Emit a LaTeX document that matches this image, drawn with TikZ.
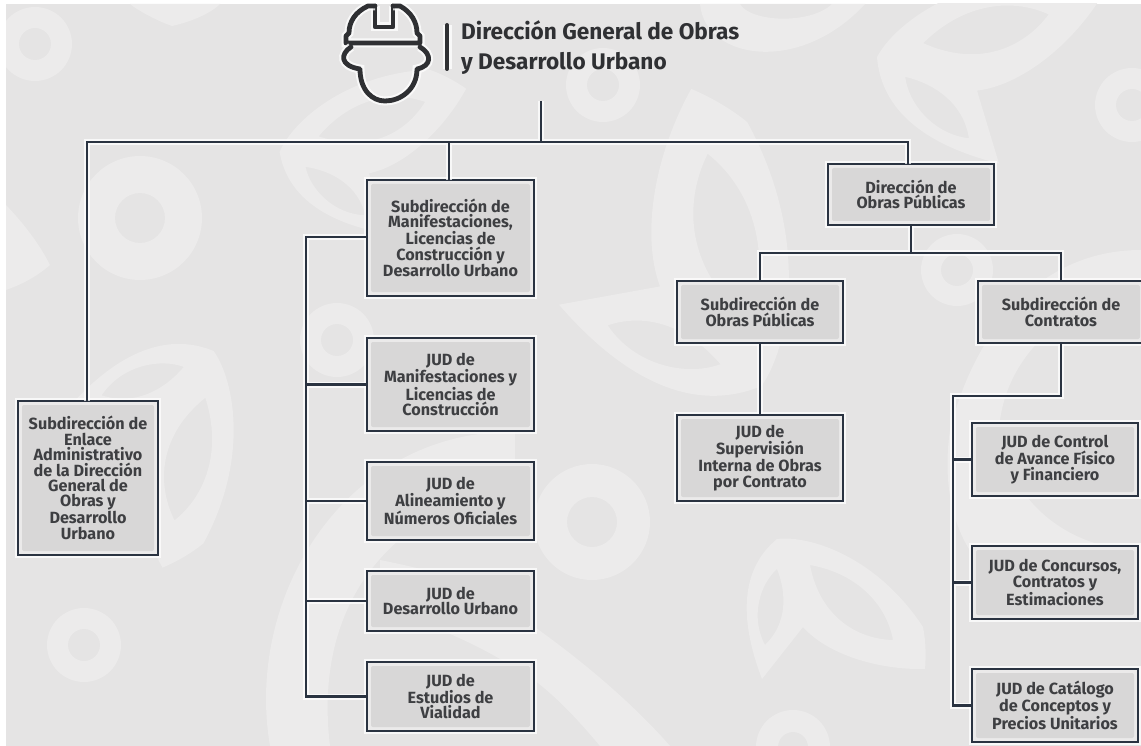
\documentclass[tikz,border=0pt]{standalone}
\usepackage{fontspec}
\setmainfont{Fira Sans}
\definecolor{bgC}{HTML}{E5E4E4}
\definecolor{decoC}{HTML}{ECEBEB}
\definecolor{boxC}{HTML}{D8D7D7}
\definecolor{rimC}{HTML}{EBEAEA}
\definecolor{lineC}{HTML}{2A3341}
\definecolor{txtC}{HTML}{3E3F42}
\definecolor{headC}{HTML}{2F3033}
\tikzset{
  halo/.style={preaction={draw=white,line width=#1,opacity=.75}},
  orgbox/.style={draw=lineC,line width=2.3pt,fill=rimC,halo=6.5pt,text=txtC,align=center,
    inner sep=0pt,font=\fontsize{16.2}{15.4}\selectfont\bfseries,
    path picture={\fill[boxC,rounded corners=2pt]
      ([shift={(4pt,4pt)}]path picture bounding box.south west) rectangle
      ([shift={(-4pt,-4pt)}]path picture bounding box.north east);}},
  conn/.style={draw=lineC,line width=2.3pt,halo=6pt},
  icon/.style={draw=headC,line width=4.8pt,line join=round,line cap=round,halo=9pt},
}
\newcommand{\sprout}[4]{\begin{scope}[shift={(#1,#2)},rotate=#3,#4]
  \fill[decoC,even odd rule]
    (-68,72) .. controls (-93,7) and (-87,-40) .. (-53,-68)
    .. controls (-20,-72) and (47,-50) .. (93,20)
    .. controls (96,35) and (96,50) .. (95,62)
    .. controls (47,63) and (-3,47) .. (-27,20) -- cycle
    (-20,-42) .. controls (30,-33) and (57,0) .. (63,33)
    .. controls (27,32) and (-10,10) .. (-20,-42) -- cycle
    (-53,-38) .. controls (-43,-13) and (-43,17) .. (-65,38)
    .. controls (-80,10) and (-70,-23) .. (-53,-38) -- cycle;
\end{scope}}
\newcommand{\donut}[4]{\fill[decoC,even odd rule] (#1,#2) circle (#3) (#1,#2) circle (#4);}
\begin{document}
\begin{tikzpicture}[x=1pt,y=-1pt]
\useasboundingbox (0,0) rectangle (1141,746);
\fill[white] (0,0) rectangle (1141,746);
\begin{scope}
\clip (6,4) rectangle (1141,746);
\fill[bgC] (6,4) rectangle (1141,746);
% background decoration
\donut{35}{44}{37}{16}
\donut{140}{218}{62}{25}
\donut{84}{645}{37}{16}
\donut{592}{522}{58}{25}
\donut{793}{747}{37}{15}
\donut{957}{270}{36}{16}
\donut{1132}{105}{37}{16}
\donut{337}{340}{37}{16}
\donut{603}{85}{37}{16}
\sprout{830}{607}{0}{}
\sprout{976}{52}{55}{scale=1.15}
\sprout{365}{140}{60}{}
\sprout{174}{440}{-62}{scale=1.13}
\sprout{707}{264}{-118}{xscale=-1.55,yscale=1.55}
\fill[decoC] (6,205) .. controls (25,225) and (40,245) .. (50,265) .. controls (35,278) and (20,285) .. (6,290) -- cycle;
\fill[decoC] (130,4) .. controls (140,12) and (160,22) .. (172,26) .. controls (190,22) and (210,14) .. (220,4) -- cycle;
\fill[decoC,even odd rule] (700,4) .. controls (705,60) and (800,75) .. (865,4) -- cycle
  (740,4) .. controls (750,22) and (810,25) .. (832,4) -- cycle;
% large shapes, bottom middle
\fill[decoC,even odd rule]
  (270,746) .. controls (245,600) and (340,440) .. (500,432) -- (515,432) -- (515,490)
  .. controls (420,500) and (310,580) .. (330,746) -- cycle;
\fill[decoC] (380,560) .. controls (430,570) and (470,580) .. (510,610)
  .. controls (570,650) and (630,700) .. (670,746) -- (600,746)
  .. controls (570,710) and (540,680) .. (510,665) .. controls (470,640) and (420,620) .. (380,610) -- cycle;
% large shape, right
\fill[decoC,even odd rule]
  (1141,250) .. controls (1040,250) and (975,330) .. (950,430)
  .. controls (940,500) and (960,560) .. (1010,590) .. controls (1060,605) and (1110,600) .. (1141,590) -- cycle
  (1141,295) .. controls (1070,300) and (1010,350) .. (1000,420)
  .. controls (1000,490) and (1060,550) .. (1141,550) -- cycle;
\end{scope}

% header
\begin{scope}
\clip (6,4) rectangle (1141,746);
\draw[icon] (375,6) -- (375,27) -- (393,27) -- (393,6);
\draw[icon] (375,6) -- (368,6) .. controls (355,12) and (349,22) .. (349,33) -- (346,36) -- (346,43)
  -- (420,43) -- (420,36) -- (417,33) .. controls (417,22) and (411,12) .. (400,6) -- (393,6);
\draw[icon] (351,47) .. controls (340,54) and (340,66) .. (360,69) .. controls (360,90) and (372,101) .. (385,101)
  .. controls (400,101) and (417,90) .. (417,69) .. controls (432,66) and (432,54) .. (420,47);
\end{scope}
\draw[icon,line width=4pt] (447,25) -- (447,69);
\node[anchor=west,inner sep=0pt,text=headC,align=left,font=\fontsize{22.6}{30}\selectfont\bfseries] (title) at (461,48)
  {Dirección General de Obras\\y Desarrollo Urbano};

\coordinate (top) at (541,101);
\coordinate (bus) at (541,142);
\coordinate (busA) at (87,142);
\coordinate (busB) at (449,142);
\coordinate (busC) at (908,142);
\coordinate (busL) at (306,237);
\coordinate (busR) at (953,396);
\coordinate (mid) at (911,253);
\coordinate (enlaceTop) at (87,401);
\coordinate (manifTop) at (449,180);
\coordinate (dopTop) at (908,164);

% boxes
\node[orgbox,minimum width=140pt,minimum height=154pt] (enlace) at (88,478)
  {Subdirección de\\Enlace\\Administrativo\\de la Dirección\\General de\\Obras y\\Desarrollo\\Urbano};
\node[orgbox,minimum width=167pt,minimum height=116pt] (manif) at (450.5,238)
  {Subdirección de\\Manifestaciones,\\Licencias de\\Construcción y\\Desarrollo Urbano};
\node[orgbox,minimum width=167pt,minimum height=93pt] (jman) at (450.5,384.5)
  {JUD de\\Manifestaciones y\\Licencias de\\Construcción};
\node[orgbox,minimum width=167pt,minimum height=78pt] (jali) at (450.5,501)
  {JUD de\\Alineamiento y\\Números Oficiales};
\node[orgbox,minimum width=167pt,minimum height=60pt] (jdes) at (450.5,601)
  {JUD de\\Desarrollo Urbano};
\node[orgbox,minimum width=167pt,minimum height=69pt] (jest) at (450.5,696.5)
  {JUD de\\Estudios de\\Vialidad};
\node[orgbox,minimum width=166pt,minimum height=61pt] (dop) at (911,194.5)
  {Dirección de\\Obras Públicas};
\node[orgbox,minimum width=166pt,minimum height=62pt] (sop) at (760,312)
  {Subdirección de\\Obras Públicas};
\node[orgbox,minimum width=166pt,minimum height=62pt] (scon) at (1061,312)
  {Subdirección de\\Contratos};
\node[orgbox,minimum width=166pt,minimum height=86pt] (jsup) at (760,458)
  {JUD de\\Supervisión\\Interna de Obras\\por Contrato};
\node[orgbox,minimum width=166pt,minimum height=73pt] (jctl) at (1055,459.5)
  {JUD de Control\\de Avance Físico\\y Financiero};
\node[orgbox,minimum width=166pt,minimum height=73pt] (jcnc) at (1055,582.5)
  {JUD de Concursos,\\Contratos y\\Estimaciones};
\node[orgbox,minimum width=166pt,minimum height=73pt] (jcat) at (1055,705.5)
  {JUD de Catálogo\\de Conceptos y\\Precios Unitarios};

% connectors
\draw[conn]
  (top) -- (bus)
  (enlaceTop) -- (busA) -- (busC) -- (dopTop)
  (manifTop) -- (busB)
  (dop.south) -- (mid)
  (sop.north) |- (mid) -| (scon.north)
  (sop.south) -- (jsup.north)
  (manif.west |- busL) -- (busL) |- (jest.west)
  (busL |- jman.west) -- (jman.west)
  (busL |- jali.west) -- (jali.west)
  (busL |- jdes.west) -- (jdes.west)
  (scon.south) |- (busR) |- (jcat.west)
  (busR |- jctl.west) -- (jctl.west)
  (busR |- jcnc.west) -- (jcnc.west);
\end{tikzpicture}
\end{document}
